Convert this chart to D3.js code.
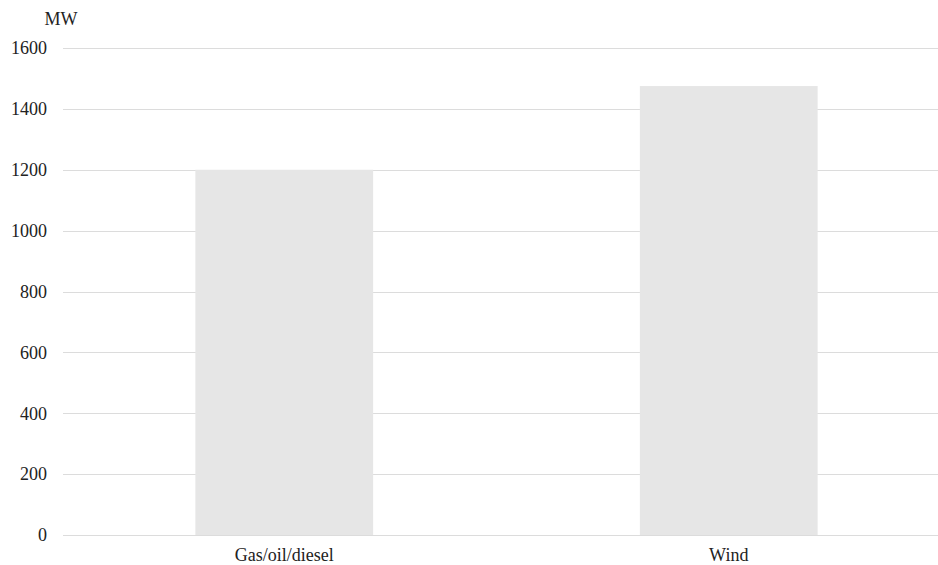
<!DOCTYPE html>
<html>
<head>
<meta charset="utf-8">
<script src="https://cdn.jsdelivr.net/npm/d3@7"></script>
<style>
  body { margin: 0; background: #fff; }
</style>
</head>
<body>
<div id="chart"></div>
<script>
// data
var categories = ["Gas/oil/diesel", "Wind"]
var values = [1200, 1475]
var yTicks = [0, 200, 400, 600, 800, 1000, 1200, 1400, 1600]

var width = 938,
    height = 565,
    font = "'Liberation Serif', 'Times New Roman', serif"

var svg = d3.select("#chart")
  .append("svg")
  .attr("width", width)
  .attr("height", height)
  .style("font-family", font)

var x = d3.scaleBand()
  .domain(categories)
  .range([62, 951])
  .paddingInner(0.6)
  .paddingOuter(0.3)

var y = d3.scaleLinear()
  .domain([0, 1600])
  .range([535, 48])

// gridlines
svg.append("g")
  .selectAll("line")
  .data(yTicks)
  .enter()
  .append("line")
  .attr("x1", 63)
  .attr("x2", width)
  .attr("y1", function(d) { return Math.round(y(d)) + 0.5 })
  .attr("y2", function(d) { return Math.round(y(d)) + 0.5 })
  .attr("stroke", "#dcdcdc")
  .attr("stroke-width", 1)

// bars
svg.append("g")
  .selectAll("rect")
  .data(values)
  .enter()
  .append("rect")
  .attr("x", function(d, i) { return x(categories[i]) })
  .attr("width", x.bandwidth())
  .attr("y", function(d) { return y(d) })
  .attr("height", function(d) { return y(0) - y(d) })
  .attr("fill", "#e6e6e6")

// y tick labels
svg.append("g")
  .selectAll("text")
  .data(yTicks)
  .enter()
  .append("text")
  .attr("x", 47)
  .attr("y", function(d) { return y(d) })
  .attr("dy", "0.35em")
  .attr("text-anchor", "end")
  .attr("font-family", font)
  .attr("fill", "#222")
  .style("font-size", "18px")
  .text(function(d) { return d })

// x labels
svg.append("g")
  .selectAll("text")
  .data(categories)
  .enter()
  .append("text")
  .attr("x", function(d) { return x(d) + x.bandwidth() / 2 })
  .attr("y", 561)
  .attr("text-anchor", "middle")
  .attr("font-family", font)
  .attr("fill", "#222")
  .style("font-size", "18px")
  .text(function(d) { return d })

// unit label
svg.append("text")
  .attr("x", 61)
  .attr("y", 25)
  .attr("text-anchor", "middle")
  .attr("font-family", font)
  .attr("fill", "#222")
  .style("font-size", "18px")
  .text("MW")
</script>
</body>
</html>
